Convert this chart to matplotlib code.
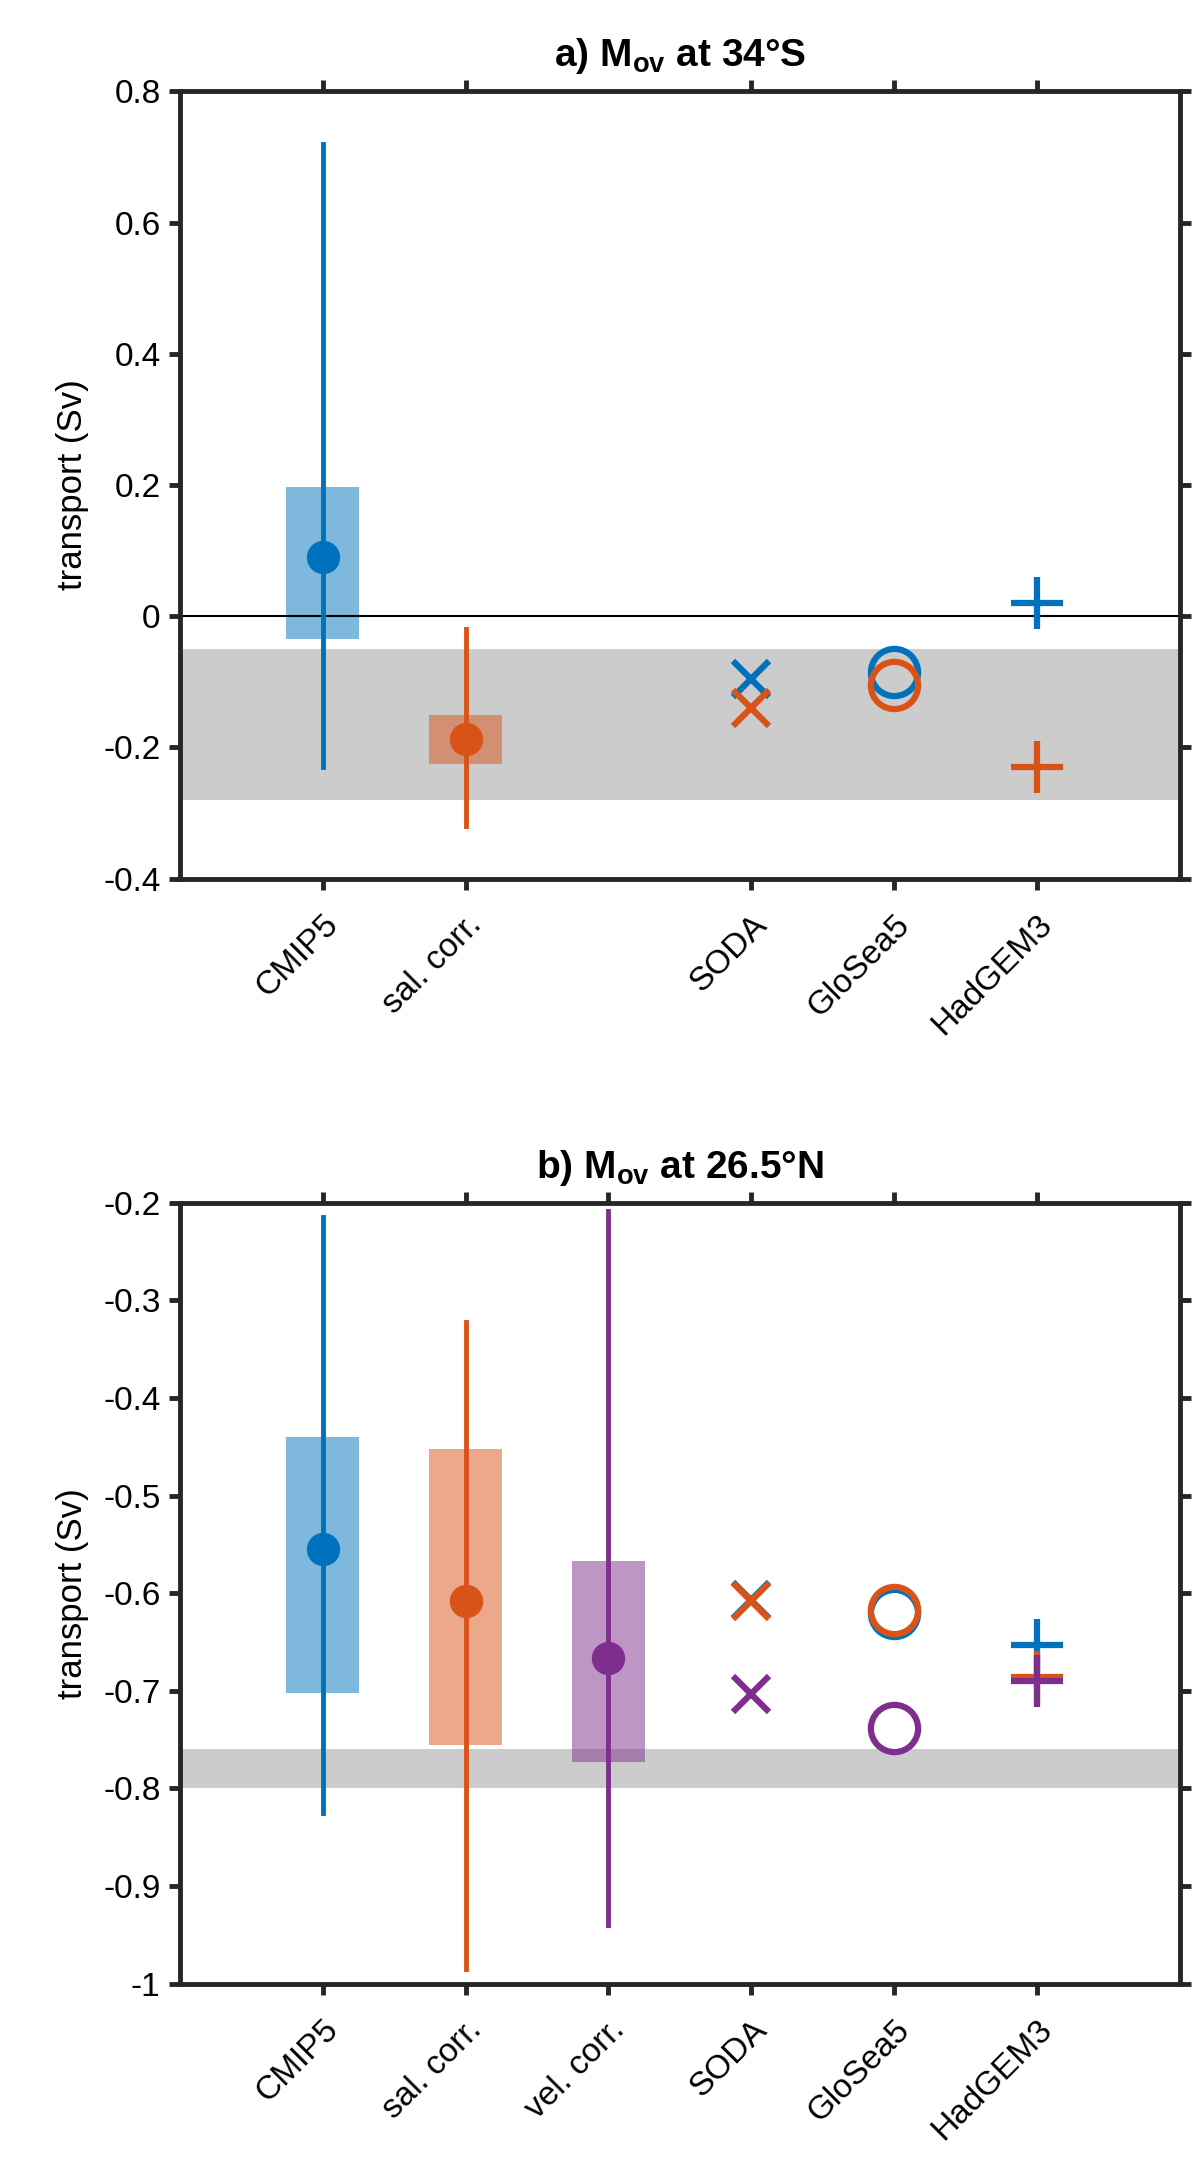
import matplotlib
matplotlib.use('Agg')
import matplotlib.pyplot as plt
import numpy as np

plt.rcParams['font.family'] = ['Liberation Sans', 'DejaVu Sans']
plt.rcParams['mathtext.fontset'] = 'custom'
plt.rcParams['mathtext.bf'] = 'Liberation Sans:bold'
plt.rcParams['mathtext.rm'] = 'Liberation Sans'

clr = ['#0072BD', '#D95319', '#7E2F8E']
labels_a = ['CMIP5', 'sal. corr.', 'SODA', 'GloSea5', 'HadGEM3']
labels_b = ['CMIP5', 'sal. corr.', 'vel. corr.', 'SODA', 'GloSea5', 'HadGEM3']

# panel a: ensemble stats (box lo, box hi, mean, whisker lo, whisker hi)
a_box_lo = [-0.035, -0.225]
a_box_hi = [0.197, -0.150]
a_mean = [0.090, -0.187]
a_wlo = [-0.230, -0.320]
a_whi = [0.720, -0.020]
a_band = [-0.28, -0.05]
a_soda = [-0.095, -0.140]
a_glosea = [-0.085, -0.105]
a_hadgem = [0.020, -0.230]

# panel b
b_box_lo = [-0.702, -0.756, -0.773]
b_box_hi = [-0.440, -0.452, -0.567]
b_mean = [-0.555, -0.608, -0.666]
b_wlo = [-0.825, -0.985, -0.940]
b_whi = [-0.215, -0.322, -0.208]
b_band = [-0.80, -0.76]
b_soda = [-0.607, -0.608, -0.703]
b_glosea = [-0.620, -0.617, -0.738]
b_hadgem = [-0.653, -0.686, -0.690]

fig = plt.figure(figsize=(12, 21.75), dpi=100)
ax1 = fig.add_axes([0.150, 0.596, 0.833, 0.362])
ax2 = fig.add_axes([0.150, 0.088, 0.833, 0.359])


def panel(ax, xens, lo, hi, mean, wlo, whi, band, xobs, obs, labels, xt, ylim, yt):
    ax.axhspan(band[0], band[1], color='#cccccc', lw=0, zorder=0)
    for i, x in enumerate(xens):
        ax.bar(x, hi[i] - lo[i], bottom=lo[i], width=0.51, color=clr[i], alpha=0.5, lw=0, zorder=1)
        ax.plot([x, x], [wlo[i], whi[i]], color=clr[i], lw=3.5, zorder=2)
        ax.plot(x, mean[i], 'o', color=clr[i], ms=23, zorder=3)
    mk = [('x', 26), ('o', 34), ('+', 38)]
    for j, vals in enumerate(obs):
        for i, v in enumerate(vals):
            ax.plot(xobs[j], v, marker=mk[j][0], ms=mk[j][1], mew=4.5, mfc='none',
                    color=clr[i], ls='none', zorder=4)
    ax.set_xlim(0, 7)
    ax.set_ylim(ylim)
    ax.set_yticks(yt)
    ax.set_yticklabels(['%g' % v for v in yt])
    ax.set_xticks(xt)
    ax.set_xticklabels(labels, rotation=45, ha='right', rotation_mode='anchor')
    ax.tick_params(direction='out', length=8, width=3.5, labelsize=24, top=True, right=True,
                   pad=6, color='#262626')
    ax.tick_params(axis='x', pad=14)
    for s in ax.spines.values():
        s.set_linewidth(3.5)
        s.set_color('#262626')
    ax.set_ylabel('transport (Sv)', fontsize=25, labelpad=10)


panel(ax1, [1, 2], a_box_lo, a_box_hi, a_mean, a_wlo, a_whi, a_band, [4, 5, 6],
      [a_soda, a_glosea, a_hadgem], labels_a, [1, 2, 4, 5, 6], (-0.4, 0.8),
      [-0.4, -0.2, 0, 0.2, 0.4, 0.6, 0.8])
ax1.axhline(0, color='black', lw=1.5, zorder=1.5)
ax1.set_title(r'a) $\mathbf{M_{ov}}$ at 34°S', fontsize=28, fontweight='bold', pad=18)

panel(ax2, [1, 2, 3], b_box_lo, b_box_hi, b_mean, b_wlo, b_whi, b_band, [4, 5, 6],
      [b_soda, b_glosea, b_hadgem], labels_b, [1, 2, 3, 4, 5, 6], (-1, -0.2),
      [-1, -0.9, -0.8, -0.7, -0.6, -0.5, -0.4, -0.3, -0.2])
ax2.set_title(r'b) $\mathbf{M_{ov}}$ at 26.5°N', fontsize=28, fontweight='bold', pad=18)

fig.savefig('out.png')
